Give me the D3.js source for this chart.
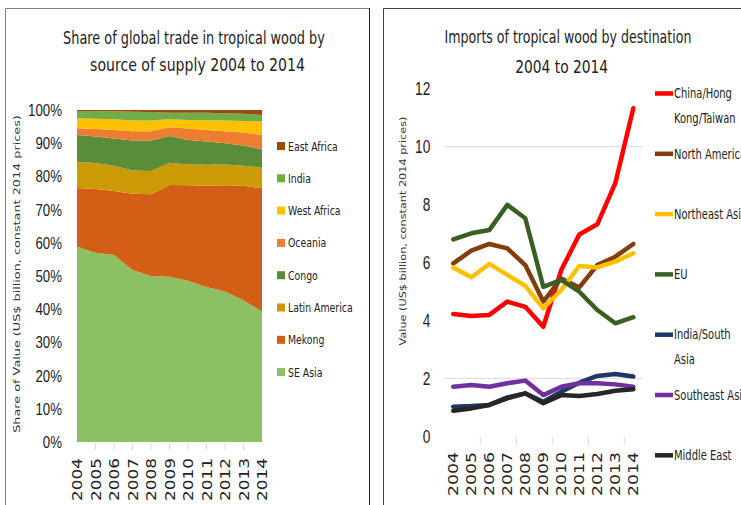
<!DOCTYPE html>
<html>
<head>
<meta charset="utf-8">
<script src="https://cdn.jsdelivr.net/npm/d3@7"></script>
<style>
  body { margin: 0; background: #fff; }
  svg { display: block; font-family: "Liberation Sans Narrow", "DejaVu Sans Condensed", sans-serif; }
</style>
</head>
<body>
<svg id="chart" width="741" height="505"></svg>
<script>
// ---- data ----
const years = [2004, 2005, 2006, 2007, 2008, 2009, 2010, 2011, 2012, 2013, 2014];

// share of value by source of supply (%), bottom to top of the stack
const supplyRegions = ['SE Asia', 'Mekong', 'Latin America', 'Congo', 'Oceania', 'West Africa', 'India', 'East Africa'];
const seAsia       = [58.8, 57.0, 56.3, 51.8, 50.0, 49.8, 48.6, 46.7, 45.3, 42.6, 39.3];
const mekong       = [17.7, 19.2, 19.3, 23.0, 24.6, 27.6, 28.7, 30.5, 32.0, 34.6, 37.1];
const latinAmerica = [7.9, 7.8, 7.6, 7.0, 7.0, 6.7, 6.3, 6.3, 6.3, 6.0, 6.2];
const congo        = [8.1, 8.0, 8.2, 9.0, 9.2, 8.1, 7.4, 7.0, 6.4, 6.1, 5.6];
const oceania      = [2.0, 2.3, 2.6, 2.8, 2.8, 2.6, 3.4, 3.5, 3.6, 3.9, 4.3];
const westAfrica   = [3.0, 3.1, 3.2, 3.2, 3.2, 2.4, 2.6, 2.9, 3.2, 3.5, 4.0];
const india        = [2.2, 2.3, 2.4, 2.7, 2.6, 2.0, 2.2, 2.3, 2.2, 2.2, 2.0];
const eastAfrica   = [0.3, 0.3, 0.4, 0.5, 0.6, 0.8, 0.8, 0.8, 1.0, 1.1, 1.5];
const supplyColors = ['#8dc063', '#d35f17', '#cc9a06', '#5b8c3a', '#ed7d31', '#ffc000', '#70ad47', '#9e480e'];
const shareTicks = [0, 10, 20, 30, 40, 50, 60, 70, 80, 90, 100];

// imports by destination (US$ billion, constant 2014 prices)
const destinations = ['China/Hong Kong/Taiwan', 'North America', 'Northeast Asia', 'EU', 'India/South Asia', 'Southeast Asia', 'Middle East'];
const chinaHK        = [4.22, 4.15, 4.19, 4.65, 4.47, 3.78, 5.74, 6.97, 7.32, 8.74, 11.33];
const northAmerica   = [5.97, 6.41, 6.64, 6.49, 5.91, 4.65, 5.45, 5.14, 5.91, 6.20, 6.64];
const northeastAsia  = [5.83, 5.49, 5.95, 5.57, 5.19, 4.42, 5.05, 5.88, 5.83, 6.03, 6.32];
const eu             = [6.80, 7.01, 7.12, 7.99, 7.53, 5.16, 5.40, 4.99, 4.36, 3.90, 4.11];
const indiaSouthAsia = [1.02, 1.04, 1.08, 1.34, 1.48, 1.19, 1.54, 1.85, 2.08, 2.15, 2.06];
const southeastAsia  = [1.71, 1.77, 1.71, 1.83, 1.92, 1.42, 1.71, 1.83, 1.83, 1.79, 1.71];
const middleEast     = [0.88, 0.96, 1.08, 1.31, 1.48, 1.14, 1.42, 1.39, 1.46, 1.57, 1.62];
const destColors = ['#ff0000', '#843c0c', '#ffc000', '#3a5f22', '#1f3864', '#7030a0', '#262626'];
const valueTicks = [0, 2, 4, 6, 8, 10, 12];
const valueGrid = [2, 10];

const svg = d3.select('#chart');
const tickGrey = '#d9d9d9';

// the source uses a very narrow face: squeeze text horizontally around its x anchor
function squeeze(sel, k) {
    sel.each(function () {
        const x = +this.getAttribute('x') || 0;
        const t = this.getAttribute('transform') || '';
        this.setAttribute('transform', `${t} translate(${x},0) scale(${k},1) translate(${-x},0)`);
    });
}
function fitTo(sel, target) {
    sel.each(function () {
        squeeze(d3.select(this), target / this.getComputedTextLength());
    });
}

// ---- panel frames ----
svg.append('path').attr('d', 'M5.5,505 V8.5 H369.5 V505').attr('fill', 'none').attr('stroke', '#808080');
svg.append('path').attr('d', 'M383.5,505 V8.5 H745').attr('fill', 'none').attr('stroke', '#404040');
svg.append('line').attr('x1', 369.5).attr('x2', 369.5).attr('y1', 8).attr('y2', 505).attr('stroke', '#222');

// ---- left: stacked share chart ----
const shareRows = years.map((yr, i) => ({
    year: yr,
    'SE Asia': seAsia[i], 'Mekong': mekong[i], 'Latin America': latinAmerica[i], 'Congo': congo[i],
    'Oceania': oceania[i], 'West Africa': westAfrica[i], 'India': india[i], 'East Africa': eastAfrica[i]
}));
const xShare = d3.scalePoint().domain(years).range([77, 262]);
const yShare = d3.scaleLinear().domain([0, 100]).range([442, 110]);
const stack = d3.stack().keys(supplyRegions)(shareRows);
const area = d3.area()
    .x(d => xShare(d.data.year))
    .y0(d => yShare(d[0]))
    .y1(d => yShare(d[1]));

const left = svg.append('g');
left.selectAll('.layer')
    .data(stack).enter()
    .append('path')
    .classed('layer', true)
    .attr('d', area)
    .attr('fill', (d, i) => supplyColors[i]);

const yAxisL = left.append('g')
    .attr('transform', 'translate(77,0)')
    .call(d3.axisLeft(yShare).tickValues(shareTicks).tickFormat(d => d + '%').tickSize(0).tickPadding(15));
yAxisL.select('.domain').remove();
yAxisL.selectAll('text').attr('font-size', 17).attr('fill', '#222').attr('font-family', null);
squeeze(yAxisL.selectAll('text'), 0.78);

left.selectAll('.xtick')
    .data(years.slice(1, -1)).enter()
    .append('line')
    .attr('x1', d => xShare(d)).attr('x2', d => xShare(d))
    .attr('y1', 443).attr('y2', 450)
    .attr('stroke', tickGrey);

const xLabL = left.selectAll('.xlab')
    .data(years).enter()
    .append('text')
    .attr('transform', d => `translate(${xShare(d)},458) rotate(-90)`)
    .attr('text-anchor', 'end')
    .attr('dy', '0.36em')
    .attr('font-family', 'DejaVu Sans, sans-serif')
    .attr('font-size', 14)
    .attr('fill', '#222')
    .text(d => d);
fitTo(xLabL, 43);

const yTitleL = left.append('text')
    .attr('transform', 'translate(17,274) rotate(-90)')
    .attr('text-anchor', 'middle')
    .attr('dy', '0.35em')
    .attr('font-family', 'DejaVu Sans, sans-serif')
    .attr('font-size', 8.5)
    .attr('fill', '#333')
    .text('Share of Value (US$ billion, constant 2014 prices)');
fitTo(yTitleL, 318);

fitTo(left.append('text').attr('x', 194).attr('y', 38).attr('dy', '0.35em')
    .attr('text-anchor', 'middle').attr('font-size', 17).attr('fill', '#222')
    .text('Share of global trade in tropical wood by'), 262);
fitTo(left.append('text').attr('x', 197.5).attr('y', 65).attr('dy', '0.35em')
    .attr('text-anchor', 'middle').attr('font-size', 17).attr('fill', '#222')
    .text('source of supply 2004 to 2014'), 215);

// legend, top entry is the top of the stack
const legendL = left.selectAll('.legL')
    .data(supplyRegions.slice().reverse()).enter()
    .append('g')
    .attr('transform', (d, i) => `translate(277,${146 + i * 32.3})`);
legendL.append('rect')
    .attr('x', 0).attr('y', -4).attr('width', 8).attr('height', 8)
    .attr('fill', d => supplyColors[supplyRegions.indexOf(d)]);
legendL.append('text')
    .attr('x', 11).attr('dy', '0.35em')
    .attr('font-size', 13).attr('fill', '#222')
    .text(d => d);
squeeze(legendL.selectAll('text'), 0.8);

// ---- right: imports line chart ----
const destSeries = [chinaHK, northAmerica, northeastAsia, eu, indiaSouthAsia, southeastAsia, middleEast];
const xVal = d3.scalePoint().domain(years).range([453.3, 633.3]);
const yVal = d3.scaleLinear().domain([0, 12]).range([436.2, 88.8]);
const step = xVal.step();

const right = svg.append('g');
right.selectAll('.grid')
    .data(valueGrid).enter()
    .append('line')
    .attr('x1', xVal(2004) - step / 2).attr('x2', xVal(2014) + step / 2)
    .attr('y1', d => yVal(d)).attr('y2', d => yVal(d))
    .attr('stroke', tickGrey);

const yAxisR = right.append('g')
    .attr('transform', `translate(${xVal(2004) - step / 2},0)`)
    .call(d3.axisLeft(yVal).tickValues(valueTicks).tickSize(0).tickPadding(14));
yAxisR.select('.domain').remove();
yAxisR.selectAll('text').attr('font-size', 19).attr('fill', '#222').attr('font-family', null);
squeeze(yAxisR.selectAll('text'), 0.72);

right.selectAll('.xtick')
    .data(years.filter((d, i) => i > 0 && i % 2 === 0)).enter()
    .append('line')
    .attr('x1', d => xVal(d) - step / 2).attr('x2', d => xVal(d) - step / 2)
    .attr('y1', 437).attr('y2', 445)
    .attr('stroke', tickGrey);

const xLabR = right.selectAll('.xlab')
    .data(years).enter()
    .append('text')
    .attr('transform', d => `translate(${xVal(d)},452) rotate(-90)`)
    .attr('text-anchor', 'end')
    .attr('dy', '0.36em')
    .attr('font-family', 'DejaVu Sans, sans-serif')
    .attr('font-size', 14)
    .attr('fill', '#222')
    .text(d => d);
fitTo(xLabR, 44);

const line = d3.line()
    .x((d, i) => xVal(years[i]))
    .y(d => yVal(d));
right.selectAll('.series')
    .data(destSeries).enter()
    .append('path')
    .classed('series', true)
    .attr('d', line)
    .attr('fill', 'none')
    .attr('stroke', (d, i) => destColors[i])
    .attr('stroke-width', 4.5)
    .attr('stroke-linejoin', 'round')
    .attr('stroke-linecap', 'round');

const yTitleR = right.append('text')
    .attr('transform', 'translate(403,231) rotate(-90)')
    .attr('text-anchor', 'middle')
    .attr('dy', '0.35em')
    .attr('font-family', 'DejaVu Sans, sans-serif')
    .attr('font-size', 8.5)
    .attr('fill', '#333')
    .text('Value (US$ billion, constant 2014 prices)');
fitTo(yTitleR, 229);

fitTo(right.append('text').attr('x', 568).attr('y', 37).attr('dy', '0.35em')
    .attr('text-anchor', 'middle').attr('font-size', 17).attr('fill', '#222')
    .text('Imports of tropical wood by destination'), 247);
fitTo(right.append('text').attr('x', 561.7).attr('y', 67).attr('dy', '0.35em')
    .attr('text-anchor', 'middle').attr('font-size', 17).attr('fill', '#222')
    .text('2004 to 2014'), 93);

// legend, long names wrap onto a second line
const wrapNames = { 'China/Hong Kong/Taiwan': ['China/Hong', 'Kong/Taiwan'], 'India/South Asia': ['India/South', 'Asia'] };
const legendR = right.selectAll('.legR')
    .data(destinations).enter()
    .append('g')
    .attr('transform', (d, i) => `translate(655,${93.5 + i * 60.3})`);
legendR.append('line')
    .attr('x1', 0).attr('x2', 18)
    .attr('stroke', (d, i) => destColors[i])
    .attr('stroke-width', 4.5);
const legTextR = legendR.append('text')
    .attr('x', 19)
    .attr('font-size', 13.5).attr('fill', '#222');
legTextR.selectAll('tspan')
    .data(d => wrapNames[d] || [d]).enter()
    .append('tspan')
    .attr('x', 19)
    .attr('dy', (d, i) => i === 0 ? '0.35em' : '25')
    .text(d => d);
squeeze(legTextR, 0.82);
</script>
</body>
</html>
